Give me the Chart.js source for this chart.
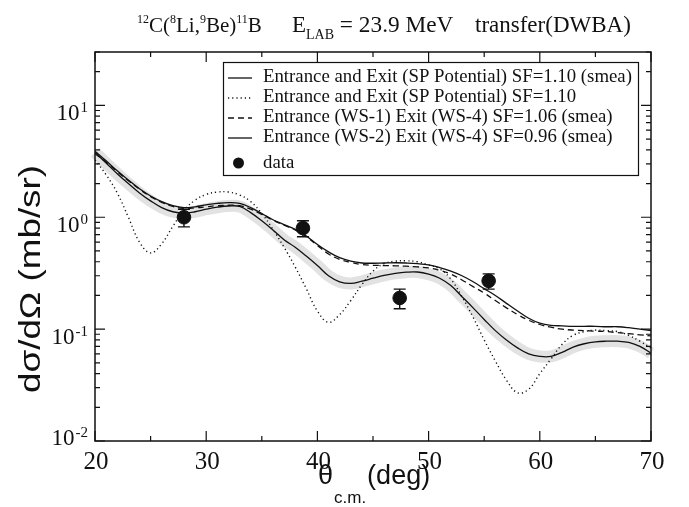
<!DOCTYPE html>
<html><head><meta charset="utf-8">
<script src="https://cdn.jsdelivr.net/npm/chart.js@4"></script>
<style>html,body{margin:0;padding:0;background:#fff}#wrap{width:689px;height:507px;position:relative}</style>
</head><body><div id="wrap"><canvas id="c" width="689" height="507"></canvas></div>
<script>
const angles = [20,21,22,23,24,25,26,27,28,29,30,31,32,33,34,35,36,37,38,39,40,41,42,43,44,45,46,47,48,49,50,51,52,53,54,55,56,57,58,59,60,61,62,63,64,65,66,67,68,69,70];
const spSmeared = [3.9,3.2,2.6,2.15,1.8,1.55,1.38,1.27,1.22,1.24,1.29,1.33,1.35,1.33,1.22,1.08,0.95,0.86,0.78,0.68,0.57,0.49,0.435,0.405,0.39,0.388,0.39,0.392,0.39,0.385,0.375,0.355,0.33,0.3,0.265,0.23,0.2,0.17,0.145,0.125,0.113,0.108,0.107,0.106,0.106,0.106,0.105,0.105,0.103,0.1,0.097];
const spPlain = [3.25,2.4,1.65,1.0,0.6,0.48,0.58,0.83,1.15,1.42,1.6,1.68,1.68,1.58,1.38,1.08,0.78,0.54,0.36,0.23,0.145,0.115,0.135,0.18,0.25,0.33,0.385,0.405,0.408,0.4,0.375,0.345,0.28,0.195,0.128,0.08,0.052,0.035,0.027,0.029,0.04,0.054,0.073,0.088,0.095,0.098,0.097,0.095,0.088,0.078,0.068];
const ws1Smeared = [3.7,3.1,2.55,2.12,1.78,1.53,1.36,1.25,1.2,1.21,1.24,1.27,1.28,1.27,1.18,1.06,0.94,0.85,0.77,0.67,0.56,0.47,0.42,0.395,0.378,0.372,0.37,0.368,0.365,0.36,0.352,0.335,0.31,0.275,0.24,0.21,0.18,0.155,0.135,0.12,0.11,0.104,0.1,0.098,0.097,0.096,0.095,0.093,0.091,0.089,0.087];
const ws2Smeared = [3.8,3.05,2.45,2.0,1.65,1.4,1.22,1.12,1.09,1.12,1.18,1.23,1.26,1.25,1.1,0.93,0.77,0.63,0.54,0.45,0.37,0.3,0.265,0.256,0.268,0.285,0.302,0.315,0.323,0.324,0.31,0.285,0.245,0.195,0.155,0.122,0.097,0.08,0.068,0.06,0.057,0.057,0.062,0.069,0.074,0.077,0.078,0.078,0.076,0.07,0.061];
const dataAngles = [28.0, 38.7, 47.4, 55.4];
const dataValues = [1.0, 0.8, 0.19, 0.27];
const dataErrors = [0.18, 0.13, 0.038, 0.042];
const xMajorTicks = [20,30,40,50,60,70];
const xMinorTicks = [25,35,45,55,65];
const yDecades = [0.01,0.1,1,10];
const yExponents = ['-2','-1','0','1'];
const legendLabels = [
  'Entrance and Exit (SP Potential) SF=1.10 (smea)',
  'Entrance and Exit (SP Potential) SF=1.10',
  'Entrance (WS-1) Exit (WS-4) SF=1.06 (smea)',
  'Entrance (WS-2) Exit (WS-4) SF=0.96 (smea)',
  'data'
];

const pts = arr => angles.map((a,i)=>({x:a,y:arr[i]}));
const INK = '#111';
const SERIF = '"Liberation Serif", "Times New Roman", serif';
const SANS = '"Liberation Sans", Arial, sans-serif';

const decor = {
  id:'decor',
  afterDatasetsDraw(chart){
    const ctx = chart.ctx, xs = chart.scales.x, ys = chart.scales.y;
    ctx.save();
    ctx.strokeStyle = INK; ctx.lineWidth = 1.4;
    dataAngles.forEach((ang,i)=>{
      const px = xs.getPixelForValue(ang);
      const yt = ys.getPixelForValue(dataValues[i]+dataErrors[i]);
      const yb = ys.getPixelForValue(dataValues[i]-dataErrors[i]);
      ctx.beginPath();
      ctx.moveTo(px,yt); ctx.lineTo(px,yb);
      ctx.moveTo(px-6,yt); ctx.lineTo(px+6,yt);
      ctx.moveTo(px-6,yb); ctx.lineTo(px+6,yb);
      ctx.stroke();
    });
    ctx.restore();
  },
  afterDraw(chart){
    const ctx = chart.ctx, xs = chart.scales.x, ys = chart.scales.y, a = chart.chartArea;
    ctx.save();
    ctx.strokeStyle = INK; ctx.fillStyle = INK; ctx.lineWidth = 1.5;
    ctx.strokeRect(a.left, a.top, a.right-a.left, a.bottom-a.top);
    ctx.lineWidth = 1.2;
    ctx.beginPath();
    const tick = (x1,y1,x2,y2)=>{ctx.moveTo(x1,y1);ctx.lineTo(x2,y2);};
    xMajorTicks.forEach(v=>{const p=xs.getPixelForValue(v);tick(p,a.bottom,p,a.bottom-10);tick(p,a.top,p,a.top+10);});
    xMinorTicks.forEach(v=>{const p=xs.getPixelForValue(v);tick(p,a.bottom,p,a.bottom-5);tick(p,a.top,p,a.top+5);});
    yDecades.forEach(d=>{
      const p=ys.getPixelForValue(d);
      tick(a.left,p,a.left+10,p); tick(a.right,p,a.right-10,p);
      for(let m=2;m<=9;m++){
        const v=d*m; if(v>ys.max) break;
        const q=ys.getPixelForValue(v);
        tick(a.left,q,a.left+5,q); tick(a.right,q,a.right-5,q);
      }
    });
    ctx.stroke();
    // x tick labels
    ctx.font = '25px '+SERIF; ctx.textAlign='center'; ctx.textBaseline='alphabetic';
    xMajorTicks.forEach(v=>{ctx.fillText(String(v), xs.getPixelForValue(v)+1, 469);});
    // y tick labels
    yDecades.forEach((d,i)=>{
      const p = ys.getPixelForValue(d);
      const base = i===0 ? p+4 : p+15;
      ctx.font = '15px '+SERIF;
      const ew = ctx.measureText(yExponents[i]).width;
      const right = 88;
      ctx.textAlign='left';
      ctx.fillText(yExponents[i], right-ew, base-8);
      ctx.font = '23px '+SERIF;
      ctx.textAlign='right';
      ctx.fillText('10', right-ew-1, base);
    });
    // title
    let x = 137;
    const seg = (txt, size, base)=>{ctx.font = size+'px '+SERIF; ctx.textAlign='left'; ctx.fillText(txt,x,base); x += ctx.measureText(txt).width;};
    seg('12',12,23); seg('C(',21,32); seg('8',12,23); seg('Li,',21,32); seg('9',12,23); seg('Be)',21,32); seg('11',12,23); seg('B',21,32);
    x = 292; seg('E',23,32); seg('LAB',14,39); seg(' = 23.9 MeV',23.3,32);
    x = 475; seg('transfer(DWBA)',23,32);
    // x axis title
    ctx.font = '27px '+SANS; ctx.textAlign='left';
    x = 318; ctx.fillText('\u03b8', x, 484); x += ctx.measureText('\u03b8').width + 1;
    ctx.font = '17px '+SANS; ctx.fillText('c.m.', x, 503); x += ctx.measureText('c.m.').width + 1;
    ctx.font = '27px '+SANS; ctx.fillText('(deg)', x, 484);
    // y axis title
    ctx.save();
    ctx.font = '30px '+SANS; ctx.textAlign='center';
    const ylab = 'd\u03c3/d\u03a9 (mb/sr)';
    const sx = 228 / ctx.measureText(ylab).width;
    ctx.translate(40, 279); ctx.rotate(-Math.PI/2); ctx.scale(sx,1);
    ctx.fillText(ylab, 0, 0);
    ctx.restore();
    // legend
    ctx.fillStyle='#fff'; ctx.fillRect(223,62,415,113);
    ctx.fillStyle=INK; ctx.lineWidth=1.2; ctx.strokeRect(223.5,62.5,415,113);
    const rowsY = [78,98,118,138,163];
    const dashes = [[],[1.2,3],[6,4],[]];
    ctx.font = '18.8px '+SERIF; ctx.textAlign='left'; ctx.textBaseline='alphabetic';
    legendLabels.forEach((lab,i)=>{
      const y = rowsY[i];
      if(i<4){
        ctx.setLineDash(dashes[i]); ctx.lineWidth = i===1?1.4:1.3;
        ctx.beginPath(); ctx.moveTo(228,y); ctx.lineTo(252,y); ctx.stroke();
        ctx.setLineDash([]);
      } else {
        ctx.beginPath(); ctx.arc(238.5,y,5.5,0,Math.PI*2); ctx.fill();
      }
      ctx.fillText(lab, 263, i<4 ? y+4 : y+5);
    });
    ctx.restore();
  }
};

new Chart(document.getElementById('c'), {
  type:'line',
  data:{datasets:[
    {label:'band', data:pts(ws2Smeared), borderColor:'#e2e2e2', borderWidth:12, pointRadius:0, tension:0.4, order:10, clip:false},
    {label:legendLabels[0], data:pts(spSmeared), borderColor:INK, borderWidth:1.3, pointRadius:0, tension:0.4, order:4},
    {label:legendLabels[1], data:pts(spPlain), borderColor:INK, borderWidth:1.4, borderDash:[1.2,3], pointRadius:0, tension:0.4, order:3},
    {label:legendLabels[2], data:pts(ws1Smeared), borderColor:INK, borderWidth:1.3, borderDash:[6,4], pointRadius:0, tension:0.4, order:2},
    {label:legendLabels[3], data:pts(ws2Smeared), borderColor:INK, borderWidth:1.3, pointRadius:0, tension:0.4, order:1},
    {type:'scatter', label:legendLabels[4], data:dataAngles.map((a,i)=>({x:a,y:dataValues[i]})), backgroundColor:INK, borderColor:INK, pointRadius:6.8, showLine:false, order:0}
  ]},
  options:{
    responsive:false, animation:false, devicePixelRatio:1,
    layout:{padding:{left:95, top:52, right:38, bottom:66}},
    plugins:{legend:{display:false}, tooltip:{enabled:false}, title:{display:false}},
    scales:{
      x:{type:'linear', min:20, max:70, display:false},
      y:{type:'logarithmic', min:0.01, max:30, display:false}
    }
  },
  plugins:[decor]
});
</script></body></html>
